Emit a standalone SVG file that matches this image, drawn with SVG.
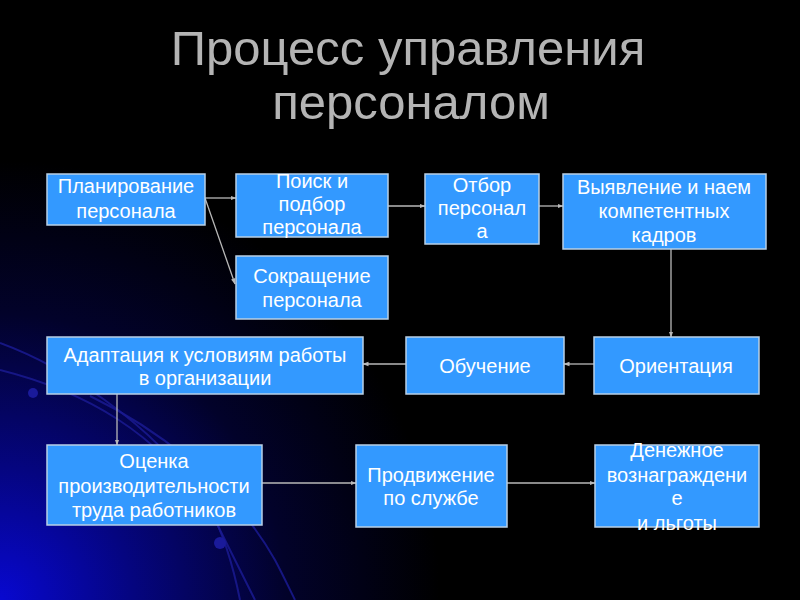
<svg xmlns="http://www.w3.org/2000/svg" width="800" height="600" viewBox="0 0 800 600">
<defs>
<radialGradient id="bg" gradientUnits="userSpaceOnUse" cx="0" cy="600" r="440">
<stop offset="0" stop-color="#0808d0"/>
<stop offset="0.3" stop-color="#050580"/>
<stop offset="0.65" stop-color="#02022a"/>
<stop offset="1" stop-color="#000000"/>
</radialGradient>
<marker id="ah" viewBox="0 0 6 6" refX="5.5" refY="3" markerWidth="6" markerHeight="6" markerUnits="userSpaceOnUse" orient="auto">
<path d="M0,0.8 L6,3 L0,5.2 z" fill="#b8b8b8"/>
</marker>
<style>
.box{fill:#3399ff;stroke:#b9d0e6;stroke-width:1.5}
.t{font-family:"Liberation Sans",Arial,sans-serif;font-size:20px;fill:#ffffff;text-anchor:middle}
.title{font-family:"Liberation Sans",Arial,sans-serif;font-size:49px;fill:#b4b4b4;text-anchor:middle}
.c{stroke:#b8b8b8;stroke-width:1.3;fill:none;marker-end:url(#ah)}
.arc{stroke:#1a1a90;stroke-width:2;fill:none;opacity:0.85}
</style>
</defs>
<rect x="0" y="0" width="800" height="600" fill="#000"/>
<rect x="0" y="0" width="800" height="600" fill="url(#bg)"/>
<g id="decor">
<path class="arc" d="M0,343 C60,365 150,420 205,500 C220,525 232,560 240,600"/>
<path class="arc" d="M0,370 C80,390 160,430 215,520 C230,550 245,580 255,600"/>
<path class="arc" d="M90,396 C150,425 230,480 275,560 C283,575 290,590 295,600"/>
<circle cx="33" cy="393" r="5" fill="#1a1a9a"/>
<circle cx="220" cy="543" r="6" fill="#1a1a9a"/>
</g>
<g id="title">
<text class="title" x="408" y="65">Процесс управления</text>
<text class="title" x="411" y="119">персоналом</text>
</g>
<g id="connectors">
<line class="c" x1="205" y1="198" x2="236" y2="198"/>
<line class="c" x1="205" y1="198" x2="235" y2="284"/>
<line class="c" x1="388" y1="206" x2="425" y2="206"/>
<line class="c" x1="539" y1="206" x2="563" y2="206"/>
<line class="c" x1="671" y1="249" x2="671" y2="337"/>
<line class="c" x1="594" y1="364" x2="564" y2="364"/>
<line class="c" x1="406" y1="364" x2="363" y2="364"/>
<line class="c" x1="117" y1="394" x2="117" y2="445"/>
<line class="c" x1="262" y1="483" x2="356" y2="483"/>
<line class="c" x1="507" y1="483" x2="595" y2="483"/>
</g>
<g id="n1"><rect class="box" x="47" y="174" width="158" height="51"/>
<text class="t" x="126" y="193">Планирование</text><text class="t" x="126" y="218">персонала</text></g>
<g id="n2"><rect class="box" x="236" y="174" width="152" height="63"/>
<text class="t" x="312" y="188">Поиск и</text><text class="t" x="312" y="211">подбор</text><text class="t" x="312" y="234">персонала</text></g>
<g id="n3"><rect class="box" x="236" y="256" width="152" height="63"/>
<text class="t" x="312" y="283">Сокращение</text><text class="t" x="312" y="307">персонала</text></g>
<g id="n4"><rect class="box" x="425" y="174" width="114" height="70"/>
<text class="t" x="482" y="192">Отбор</text><text class="t" x="482" y="215">персонал</text><text class="t" x="482" y="238">а</text></g>
<g id="n5"><rect class="box" x="563" y="174" width="203" height="75"/>
<text class="t" x="664" y="194">Выявление и наем</text><text class="t" x="664" y="218">компетентных</text><text class="t" x="664" y="242">кадров</text></g>
<g id="n6"><rect class="box" x="594" y="337" width="165" height="57"/>
<text class="t" x="676" y="373">Ориентация</text></g>
<g id="n7"><rect class="box" x="406" y="337" width="158" height="57"/>
<text class="t" x="485" y="373">Обучение</text></g>
<g id="n8"><rect class="box" x="47" y="337" width="316" height="57"/>
<text class="t" x="205" y="362">Адаптация к условиям работы</text><text class="t" x="205" y="385">в организации</text></g>
<g id="n9"><rect class="box" x="47" y="445" width="215" height="80"/>
<text class="t" x="154" y="468">Оценка</text><text class="t" x="154" y="493">производительности</text><text class="t" x="154" y="517">труда работников</text></g>
<g id="n10"><rect class="box" x="356" y="445" width="151" height="82"/>
<text class="t" x="431" y="482">Продвижение</text><text class="t" x="431" y="505">по службе</text></g>
<g id="n11"><rect class="box" x="595" y="445" width="164" height="82"/>
<text class="t" x="677" y="457">Денежное</text><text class="t" x="677" y="482">вознаграждени</text><text class="t" x="677" y="505">е</text><text class="t" x="677" y="530">и льготы</text></g>
</svg>
